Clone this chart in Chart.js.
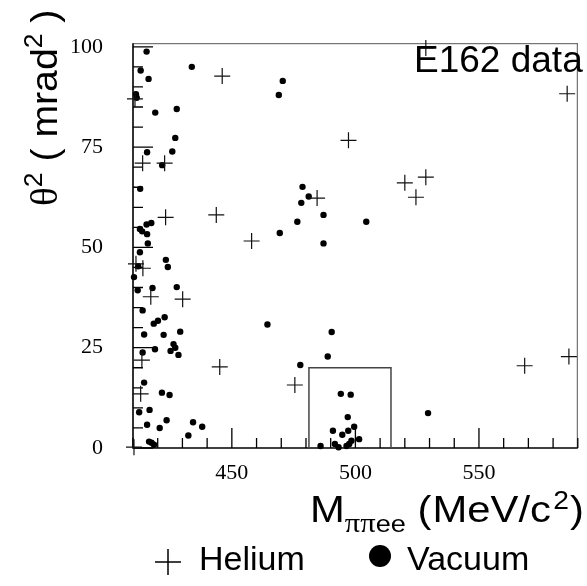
<!DOCTYPE html>
<html>
<head>
<meta charset="utf-8">
<script src="https://cdn.jsdelivr.net/npm/chart.js@4.4.1/dist/chart.umd.min.js"></script>
<style>
  html, body { margin: 0; padding: 0; background: #fff; }
  canvas { display: block; }
</style>
</head>
<body>
<canvas id="scatterE162" width="587" height="586"></canvas>
<script>
// E162 candidates: invariant mass vs theta^2
var heliumMass   = [528.5, 446.1, 410.8, 413.9, 422.8, 423.2, 443.7, 458.0, 497.2, 520.0, 528.5, 524.5, 484.5,
                    585.7, 411.2, 414.0, 417.2, 430.1, 413.6, 445.1, 413.1, 475.5, 568.5, 586.4, 410.4];
var heliumTheta2 = [99.7, 92.7, 87.0, 71.0, 71.0, 57.5, 58.1, 51.6, 76.7, 66.1, 67.5, 62.5, 62.3,
                    88.3, 45.9, 44.8, 37.7, 37.1, 21.9, 20.2, 13.5, 15.7, 20.5, 22.8, 0.2];

var vacuumMass   = [415.5, 413.1, 416.3, 433.8, 411.2, 411.5, 419.0, 427.7, 427.1, 415.7, 425.9, 421.8, 412.9,
                    415.5, 417.4, 412.8, 413.7, 415.7, 416.0, 412.8, 423.3, 424.1, 412.1, 410.4, 411.9, 417.9,
                    427.7, 413.9, 418.4, 420.1, 422.8, 414.5, 422.4, 429.1, 413.9, 418.9, 426.4, 427.1, 425.2,
                    428.4, 414.5, 421.7, 424.8, 412.5, 416.7, 415.7, 420.8, 423.6, 434.3, 438.0, 432.4, 416.5,
                    417.5, 418.5, 470.6, 469.0, 478.6, 481.1, 478.1, 487.1, 476.5, 504.4, 469.4, 487.1, 464.4,
                    490.4, 488.8, 477.7, 494.1, 498.1, 496.9, 490.9, 497.1, 499.5, 494.7, 501.5, 498.4, 497.5,
                    496.4, 491.7, 493.2, 485.9, 529.4];
var vacuumTheta2 = [98.8, 94.1, 92.0, 95.0, 88.2, 87.3, 83.6, 84.5, 77.3, 73.7, 73.9, 70.5, 64.6,
                    55.7, 56.1, 54.6, 54.0, 53.3, 51.0, 48.8, 46.9, 45.1, 45.3, 42.6, 39.3, 39.9,
                    40.1, 34.3, 31.0, 31.7, 32.6, 28.3, 28.2, 29.0, 23.8, 24.6, 25.9, 25.0, 24.2,
                    23.2, 16.3, 13.8, 13.2, 8.9, 9.5, 5.8, 5.0, 6.9, 6.4, 5.3, 3.1, 1.6,
                    1.3, 0.8, 91.5, 88.0, 65.1, 62.7, 61.1, 58.1, 56.4, 56.4, 53.6, 51.0, 30.8,
                    28.9, 22.8, 20.7, 13.5, 13.3, 7.7, 4.3, 4.3, 5.3, 3.3, 2.2, 1.8, 1.0,
                    0.5, 1.0, 0.2, 0.5, 8.7];

// signal region
var boxMass   = [481.2, 514.4];
var boxTheta2 = [0, 20];

var xTickLabels = [450, 500, 550];
var yTickLabels = [0, 25, 50, 75, 100];
var xRange = [410, 590];
var yRange = [0, 100.9];

function toPoints(xs, ys) {
	var pts = [];
	for (var i in xs) {
		pts.push({x: xs[i], y: ys[i]});
	}
	return pts;
}

var boxPoints = [
	{x: boxMass[0], y: boxTheta2[0]},
	{x: boxMass[0], y: boxTheta2[1]},
	{x: boxMass[1], y: boxTheta2[1]},
	{x: boxMass[1], y: boxTheta2[0]}
];

var SANS = '"Liberation Sans", Arial, sans-serif';
var SERIF = '"Liberation Serif", "Times New Roman", serif';

// draws a list of [text, font, dy] pieces one after the other
function drawPieces(ctx, pieces, x) {
	for (var i = 0; i < pieces.length; i++) {
		ctx.font = pieces[i][1];
		ctx.fillText(pieces[i][0], x, pieces[i][2]);
		x += ctx.measureText(pieces[i][0]).width;
	}
	return x;
}

// frame with inward ticks, like a ROOT pad
var framePlugin = {
	id: 'frame',
	beforeDatasetsDraw: function(chart) {
		var ctx = chart.ctx, a = chart.chartArea;
		var xs = chart.scales.x, ys = chart.scales.y;
		ctx.save();
		ctx.strokeStyle = '#555';
		ctx.lineWidth = 1;
		ctx.beginPath();
		ctx.moveTo(a.left, a.top + 0.5); ctx.lineTo(a.right, a.top + 0.5);
		ctx.moveTo(a.right - 0.5, a.top); ctx.lineTo(a.right - 0.5, a.bottom);
		ctx.stroke();

		ctx.strokeStyle = '#000';
		ctx.lineWidth = 1.6;
		ctx.beginPath();
		ctx.moveTo(a.left, a.top); ctx.lineTo(a.left, a.bottom);
		ctx.lineTo(a.right, a.bottom);
		ctx.stroke();

		ctx.lineWidth = 1.3;
		ctx.beginPath();
		var v, p, len;
		for (v = xRange[0]; v <= xRange[1]; v += 10) {
			p = xs.getPixelForValue(v);
			len = (v % 50 === 0) ? 20 : 10;
			ctx.moveTo(p, a.bottom); ctx.lineTo(p, a.bottom - len);
		}
		for (v = 0; v <= 100; v += 5) {
			p = ys.getPixelForValue(v);
			len = (v % 25 === 0) ? 20 : 10;
			ctx.moveTo(a.left, p); ctx.lineTo(a.left + len, p);
		}
		ctx.stroke();
		ctx.restore();
	},
	afterDraw: function(chart) {
		var ctx = chart.ctx;
		var big = '37px ' + SANS, sup = '25px ' + SANS;
		ctx.save();
		ctx.fillStyle = '#000';
		ctx.textBaseline = 'alphabetic';
		ctx.textAlign = 'left';

		// x title: M_{pi pi ee} ( MeV/c^2 ), a bit wide like the ROOT font
		ctx.save();
		ctx.translate(0, 522);
		ctx.scale(1.13, 1);
		var x = drawPieces(ctx, [['M', big, 0]], 310 / 1.13);
		x = drawPieces(ctx, [['\u03c0\u03c0', '27px ' + SERIF, 10], ['ee', '24px ' + SANS, 10]], x);
		x = drawPieces(ctx, [[' (', big, 0]], x);
		x = drawPieces(ctx, [['MeV/c', big, 0]], x + 1);
		x = drawPieces(ctx, [['2', sup, -13]], x + 2);
		drawPieces(ctx, [[')', big, 0]], x + 1);
		ctx.restore();

		// y title: theta^2 ( mrad^2 ), rotated
		ctx.save();
		ctx.translate(57, 206);
		ctx.rotate(-Math.PI / 2);
		ctx.scale(1.06, 1);
		drawPieces(ctx, [
			['\u03b8', '37px ' + SERIF, 0],
			['2', sup, -15],
			[' ( mrad', big, 0],
			['2', sup, -15],
			[' )', big, 0]
		], 0);
		ctx.restore();

		// label
		ctx.font = '37px ' + SANS;
		ctx.fillText('E162 data', 414, 72);

		// legend
		ctx.strokeStyle = '#000';
		ctx.lineWidth = 1.5;
		ctx.beginPath();
		ctx.moveTo(155, 562); ctx.lineTo(181, 562);
		ctx.moveTo(168, 549); ctx.lineTo(168, 575);
		ctx.stroke();
		ctx.font = '34px ' + SANS;
		ctx.fillText('Helium', 199, 570);
		ctx.beginPath();
		ctx.arc(380, 556, 11, 0, Math.PI * 2);
		ctx.fill();
		ctx.fillText('Vacuum', 407, 570);
		ctx.restore();
	}
};

var ctx = document.getElementById('scatterE162').getContext('2d');

var scatterChart = new Chart(ctx, {
	type: 'scatter',
	data: {
		datasets: [
			{
				label: 'Helium',
				data: toPoints(heliumMass, heliumTheta2),
				pointStyle: 'cross',
				pointRadius: 8,
				borderColor: '#111',
				borderWidth: 1.2,
				clip: false
			},
			{
				label: 'Vacuum',
				data: toPoints(vacuumMass, vacuumTheta2),
				pointStyle: 'circle',
				pointRadius: 3.2,
				backgroundColor: '#000',
				borderWidth: 0,
				clip: false
			},
			{
				type: 'line',
				label: 'box',
				data: boxPoints,
				showLine: true,
				borderColor: '#444',
				borderWidth: 1.5,
				pointRadius: 0,
				fill: false
			}
		]
	},
	options: {
		responsive: false,
		animation: false,
		devicePixelRatio: 1,
		layout: { padding: { top: 13, right: 5, left: 0, bottom: 0 } },
		plugins: {
			legend: { display: false },
			tooltip: { enabled: false }
		},
		scales: {
			x: {
				type: 'linear',
				min: xRange[0],
				max: xRange[1],
				grid: { display: false, drawTicks: false },
				border: { display: false },
				afterBuildTicks: function(scale) {
					scale.ticks = xTickLabels.map(function(v) { return {value: v}; });
				},
				afterFit: function(scale) { scale.height = 138; },
				ticks: {
					color: '#000',
					padding: 12,
					maxRotation: 0,
					font: { family: SERIF, size: 22 }
				}
			},
			y: {
				type: 'linear',
				min: yRange[0],
				max: yRange[1],
				grid: { display: false, drawTicks: false },
				border: { display: false },
				afterBuildTicks: function(scale) {
					scale.ticks = yTickLabels.map(function(v) { return {value: v}; });
				},
				afterFit: function(scale) { scale.width = 133; },
				ticks: {
					color: '#000',
					padding: 30,
					font: { family: SERIF, size: 22 }
				}
			}
		}
	},
	plugins: [framePlugin]
});
</script>
</body>
</html>
